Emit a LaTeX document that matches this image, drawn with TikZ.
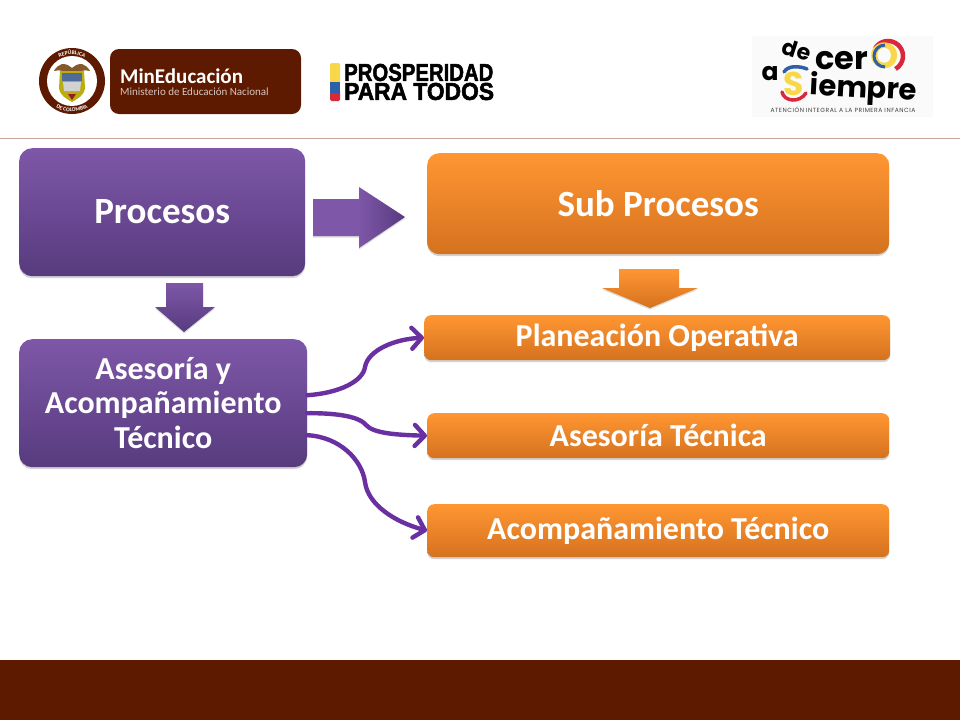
\documentclass[tikz,border=0pt]{standalone}
\usepackage{fontspec}
\setmainfont{Carlito}
\newfontfamily\heavy[BoldFont={Liberation Sans Bold},BoldFeatures={FakeBold=2.2}]{Liberation Sans}
\newfontfamily\round{Poppins}
\newfontfamily\tagfont[LetterSpace=9]{Poppins}
\usetikzlibrary{shadows,arrows.meta,calc,decorations.text}
\definecolor{purpT}{HTML}{7E57A8}
\definecolor{purpB}{HTML}{573B7E}
\definecolor{orT}{HTML}{FF9632}
\definecolor{orB}{HTML}{D5721F}
\definecolor{conn}{HTML}{6A2FA0}
\definecolor{band}{HTML}{5E1A00}
\definecolor{rule}{HTML}{C8A19B}
\definecolor{flagY}{HTML}{F8D84A}
\definecolor{flagB}{HTML}{2F5FA8}
\definecolor{flagR}{HTML}{D8283A}
\tikzset{
  softshadow/.style={drop shadow={shadow xshift=0pt,shadow yshift=-2pt,opacity=.25,fill=black!70}},
  purplebox/.style={rounded corners=13pt,top color=purpT,bottom color=purpB,draw=none,softshadow,
    text=white,align=center,inner sep=0pt,anchor=north west},
  orangebox/.style={rounded corners=12pt,top color=orT,bottom color=orB,draw=none,softshadow,
    text=white,align=center,inner sep=0pt,anchor=north west},
  orangeslim/.style={orangebox,rounded corners=7pt},
  linkline/.style={draw=conn,line width=4.4pt,line cap=round,line join=round,
    -{Straight Barb[length=10pt,width=21pt,line width=4.4pt,round]}},
  blockshadow/.style={drop shadow={shadow xshift=0pt,shadow yshift=-1.5pt,opacity=.2,fill=black!70}},
}
\begin{document}
\begin{tikzpicture}[x=1pt,y=-1pt]
\useasboundingbox (0,0) rectangle (960,720);
\fill[white] (0,0) rectangle (960,720);
% header rule and footer band
\draw[rule,line width=1pt] (0,138) -- (960,138);
\fill[band] (0,660) rectangle (960,720);

% --- MinEducacion logo
\fill[band] (72,81) circle (33);
\fill[white] (72,81) circle (25);
\path[decorate,decoration={text along path,text align=center,
  text={|\fontsize{5.6}{6}\selectfont\bfseries\color{white}|REPÚBLICA}}]
  (46,81) .. controls (46,46) and (98,46) .. (98,81);
\path[decorate,decoration={text along path,text align=center,
  text={|\fontsize{5.6}{6}\selectfont\bfseries\color{white}|DE COLOMBIA}}]
  (41.5,81) .. controls (41.5,122) and (102.5,122) .. (102.5,81);
% coat of arms
\fill[brown!70!black] (72,68) .. controls (64,61) and (58,64) .. (54,71) .. controls (60,69) and (66,72) .. (72,74)
  .. controls (78,72) and (84,69) .. (90,71) .. controls (86,64) and (80,61) .. (72,68) -- cycle;
\fill[olive!60!yellow!85!brown] (60,71) -- (84,71) -- (85,88) .. controls (84,96) and (77,99) .. (72,102)
  .. controls (67,99) and (60,96) .. (59,88) -- cycle;
\fill[flagB!60!gray] (62,73) rectangle (82,81);
\fill[gray!35] (63,82) -- (81,82) -- (80,91) -- (64,91) -- cycle;
\fill[flagR!70!black] (68,94) -- (76,94) -- (72,100) -- cycle;
% brown plate
\fill[band,rounded corners=9pt] (110,49) rectangle (301,114);
\node[anchor=west,inner sep=0pt,text=white,font=\fontsize{21}{21}\selectfont\bfseries] (mined) at (120,76) {MinEducación};
\node[anchor=west,inner sep=0pt,text=white!75!band,font=\fontsize{11}{11}\selectfont] (minsub) at (120,92) {Ministerio de Educación Nacional};

% --- Prosperidad logo
\fill[flagY,rounded corners=1.5pt] (330,63) rectangle (340,84);
\fill[flagR,rounded corners=1.5pt] (330,90) rectangle (340,101);
\fill[flagB] (330,82) rectangle (340,93);
\node[anchor=west,inner sep=0pt,align=left,font=\heavy\fontsize{24.5}{19}\selectfont\bfseries] (prosp) at (344,82)
  {\scalebox{.83}[1]{PROSPERIDAD}\\\scalebox{.93}[1]{PARA TODOS}};

% --- De cero a siempre logo
\fill[black!2] (752,36) rectangle (933,117);
\draw[flagR,line width=4.5pt] (888,56) ++(-150:15) arc[start angle=-150,end angle=60,radius=15];
\node[inner sep=0pt,rotate=-18,font=\round\fontsize{22}{22}\selectfont\bfseries] (de) at (797,50) {de};
\node[inner sep=0pt,anchor=west,font=\round\fontsize{32}{32}\selectfont\bfseries] (cer) at (815,61) {cer};
\node[inner sep=0pt,text=flagY,font=\round\fontsize{36}{36}\selectfont\bfseries] (o2) at (885,56) {O};
\draw[flagB,line width=3pt] (885,56) ++(90:11) arc[start angle=90,end angle=270,radius=11];
\node[inner sep=0pt,font=\round\fontsize{25}{25}\selectfont\bfseries] (a) at (770,74) {a};
\draw[flagR,line width=3.5pt,line cap=round] (782,92) .. controls (784,102) and (800,103) .. (806,93);
\draw[flagB,line width=3.5pt,line cap=round] (784,72) .. controls (788,65) and (800,66) .. (807,69);
\node[inner sep=0pt,text=flagY,font=\round\fontsize{33}{33}\selectfont\bfseries] (s3) at (794,84) {S};
\node[inner sep=0pt,anchor=west,rotate=-3,font=\round\fontsize{29}{29}\selectfont\bfseries] (iempre) at (810,87) {iempre};
\node[inner sep=0pt,font=\tagfont\fontsize{6}{6}\selectfont,text=black!75] (tag) at (843,110) {ATENCIÓN INTEGRAL A LA PRIMERA INFANCIA};

% --- boxes
\node[purplebox,minimum width=286pt,minimum height=128pt,font=\fontsize{37}{37}\selectfont\bfseries] (proc) at (19,148) {\raisebox{2pt}{Procesos}};
\node[purplebox,minimum width=288pt,minimum height=128pt,font=\fontsize{32}{34.5}\selectfont\bfseries] (ases) at (19,339) {\raisebox{1.5pt}{Asesoría y}\\\raisebox{1.5pt}{Acompañamiento}\\\raisebox{1.5pt}{Técnico}};
\node[orangebox,minimum width=462pt,minimum height=101pt,font=\fontsize{37}{37}\selectfont\bfseries] (sub) at (427,153) {Sub Procesos};
\node[orangeslim,minimum width=466pt,minimum height=45pt,font=\fontsize{32}{32}\selectfont\bfseries] (plan) at (424,315) {Planeación Operativa};
\node[orangeslim,minimum width=462pt,minimum height=45pt,font=\fontsize{32}{32}\selectfont\bfseries] (tec) at (427,413) {\raisebox{1.5pt}{Asesoría Técnica}};
\node[orangeslim,minimum width=462pt,minimum height=53pt,font=\fontsize{32}{32}\selectfont\bfseries] (acom) at (427,504) {Acompañamiento Técnico};

% --- block arrows
\path[blockshadow,left color=purpT,right color=purpB,middle color=purpT]
  (313,199) -- (359,199) -- (359,187) -- (405,217) -- (359,248) -- (359,236) -- (313,236) -- cycle;
\path[blockshadow,top color=purpT,bottom color=purpB]
  (166,283) -- (203,283) -- (203,307) -- (215,307) -- (184,332) -- (155,307) -- (166,307) -- cycle;
\path[blockshadow,top color=orT,bottom color=orB]
  (619,269) -- (679,269) -- (679,288) -- (698,288) -- (650,308) -- (602,288) -- (619,288) -- cycle;

% --- connectors
\coordinate (s1a) at ($(ases.east)+(0,-8)$);
\coordinate (s2a) at ($(ases.east)+(0,10)$);
\coordinate (s3a) at ($(ases.east)+(0,32)$);
\draw[linkline] (s1a) .. controls (340,393) and (363,381) .. (365,367) .. controls (368,350) and (395,339) .. (plan.west);
\draw[linkline] (s2a) .. controls (330,413) and (358,415) .. (366,425) .. controls (373,433) and (395,435) .. (tec.west);
\draw[linkline] (s3a) .. controls (340,437) and (362,460) .. (365,482) .. controls (368,505) and (395,522) .. (acom.west);
\end{tikzpicture}
\end{document}
